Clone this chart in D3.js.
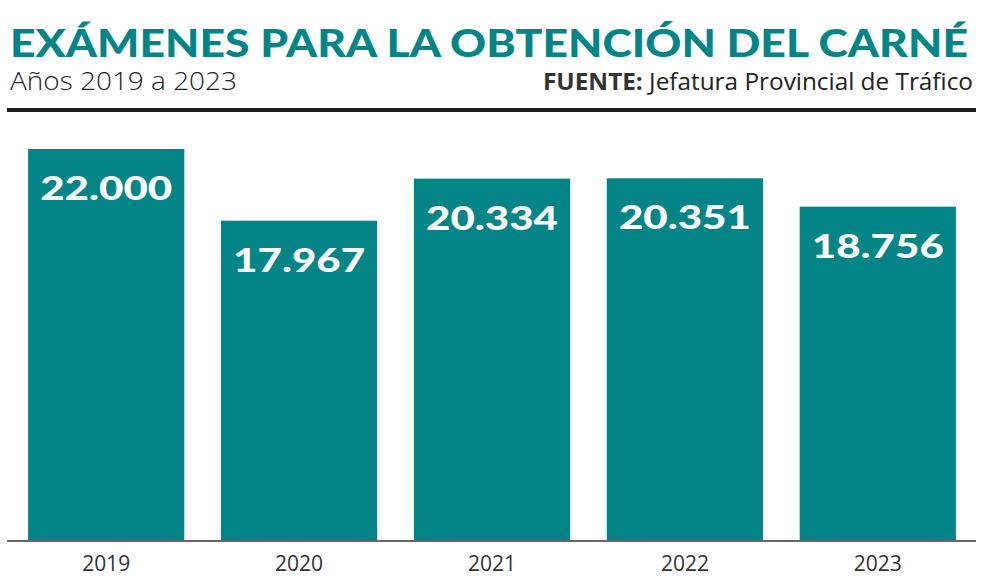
<!DOCTYPE html>
<html>
<head>
<meta charset="utf-8">
<script src="https://cdn.jsdelivr.net/npm/d3@7"></script>
<style>
  body { margin: 0; background: #fff; }
  svg { display: block; }
</style>
</head>
<body>
<svg id="chart" width="1000" height="587"></svg>
<script>
// data
var years = ["2019", "2020", "2021", "2022", "2023"];
var examenes = [22000, 17967, 20334, 20351, 18756];

var teal = "#038588";

var svg = d3.select("#chart");
var margin = {left: 8, right: 24, bottom: 47};
var baseY = 540;

var x = d3.scaleBand()
    .domain(years)
    .range([margin.left, 1000 - margin.right])
    .paddingInner(0.19)
    .paddingOuter(0.104);

var y = d3.scaleLinear()
    .domain([0, 22000])
    .range([baseY, 149]);

var fmt = d3.formatLocale({decimal: ",", thousands: ".", grouping: [3], currency: ["", "€"]}).format(",d");

// title + subtitle
svg.append("text")
    .attr("x", 10).attr("y", 57)
    .attr("textLength", 958).attr("lengthAdjust", "spacingAndGlyphs")
    .style("font-family", "Lato").style("font-weight", 900).style("font-size", "38px")
    .style("fill", teal)
    .text("EXÁMENES PARA LA OBTENCIÓN DEL CARNÉ");

svg.append("text")
    .attr("x", 10).attr("y", 90)
    .attr("textLength", 227).attr("lengthAdjust", "spacingAndGlyphs")
    .style("font-family", "Open Sans").style("font-weight", 300).style("font-size", "26px")
    .style("fill", "#222")
    .text("Años 2019 a 2023");

var src = svg.append("text")
    .attr("x", 973).attr("y", 90)
    .attr("text-anchor", "end")
    .attr("textLength", 430).attr("lengthAdjust", "spacingAndGlyphs")
    .style("font-family", "Open Sans").style("font-size", "24px").style("fill", "#222");
src.append("tspan").style("font-weight", 700).style("fill", "#333").text("FUENTE: ");
src.append("tspan").style("font-weight", 400).text("Jefatura Provincial de Tráfico");

// rule under header
svg.append("rect")
    .attr("x", 7).attr("y", 108)
    .attr("width", 969).attr("height", 4)
    .style("fill", "#1e1e1e");

// bars
svg.selectAll(".bar")
    .data(examenes)
    .enter().append("rect")
    .attr("class", "bar")
    .attr("x", function(d, i) { return x(years[i]); })
    .attr("y", function(d) { return y(d); })
    .attr("width", x.bandwidth())
    .attr("height", function(d) { return y(0) - y(d); })
    .style("fill", teal);

// value labels
svg.selectAll(".val")
    .data(examenes)
    .enter().append("text")
    .attr("class", "val")
    .attr("x", function(d, i) { return x(years[i]) + x.bandwidth() / 2; })
    .attr("y", function(d) { return y(d) + 51; })
    .attr("text-anchor", "middle")
    .attr("textLength", 132).attr("lengthAdjust", "spacingAndGlyphs")
    .style("font-family", "Lato").style("font-weight", 900).style("font-size", "33px")
    .style("fill", "#fff")
    .text(function(d) { return fmt(d); });

// x axis
var xAxis = d3.axisBottom(x).tickSize(0).tickPadding(15);
var gx = svg.append("g")
    .attr("transform", "translate(0," + (baseY + 1) + ")")
    .call(xAxis);
gx.select(".domain")
    .attr("d", "M7,0H976")
    .style("stroke", "#333").style("stroke-width", 1.5);
gx.selectAll(".tick text")
    .style("font-family", "Open Sans").style("font-weight", 400).style("font-size", "21px")
    .style("fill", "#333");
</script>
</body>
</html>
